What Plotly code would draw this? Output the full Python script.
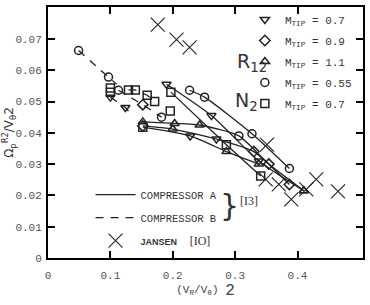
import plotly.graph_objects as go

# ---------------- data ----------------
# Compressor A (solid curves)
a_series = [
    # (x values, y values, marker symbols)
    ([0.190, 0.262, 0.338, 0.410], [0.0555, 0.0455, 0.0310, 0.0215],
     ["tdown", "tdown", "tdown", "tup"]),
    ([0.197, 0.286, 0.341], [0.0530, 0.0362, 0.0262],
     ["square", "square", "square"]),
    ([0.227, 0.251, 0.327, 0.387], [0.0536, 0.0514, 0.0397, 0.0286],
     ["circle", "circle", "circle", "circle"]),
    ([0.152, 0.203, 0.243, 0.306, 0.354, 0.410], [0.0435, 0.0430, 0.0425, 0.0390, 0.0300, 0.0215],
     ["tup", "tup", "tup", "circle", "diamond", "tup"]),
    ([0.152, 0.200, 0.270, 0.330, 0.387], [0.0422, 0.0412, 0.0380, 0.0340, 0.0235],
     ["diamond", "tup", "tdown", "diamond", "diamond"]),
    ([0.152, 0.228, 0.286, 0.338], [0.0418, 0.0390, 0.0340, 0.0300],
     ["square", "tdown", "tup", "tup"]),
]
# Compressor B (dashed curves)
b_series = [
    ([0.049, 0.097, 0.110], [0.0663, 0.0578, 0.0555], ["circle", "circle", None]),
    ([0.100, 0.124, 0.132], [0.0514, 0.0481, 0.0462], ["tdown", "tdown", None]),
    ([0.129, 0.140, 0.159, 0.171], [0.0537, 0.0537, 0.0520, 0.0500],
     ["square", "square", "square", "square"]),
    ([0.113, 0.152, 0.182], [0.0536, 0.0490, 0.0450], ["circle", "diamond", "circle"]),
]
# isolated points
single_x = [0.100, 0.100, 0.196]
single_y = [0.0543, 0.0530, 0.0470]
single_s = ["square", "square", "square"]

# Jansen [10]
jansen_x = [0.176, 0.206, 0.227, 0.351, 0.349, 0.370, 0.390, 0.414, 0.430, 0.465]
jansen_y = [0.0746, 0.0698, 0.0673, 0.0362, 0.0251, 0.0235, 0.0187, 0.0219, 0.0251, 0.0213]

# legend entries for marker symbols
sym_order = ["tdown", "diamond", "tup", "circle", "square"]
sym_labels = ["M<sub>TIP</sub> = 0.7", "M<sub>TIP</sub> = 0.9", "M<sub>TIP</sub> = 1.1",
              "M<sub>TIP</sub> = 0.55", "M<sub>TIP</sub> = 0.7"]
plotly_sym = {"tdown": "triangle-down-open", "diamond": "diamond-open",
              "tup": "triangle-up-open", "circle": "circle-open", "square": "square-open"}

x_ticks = [0, 0.1, 0.2, 0.3, 0.4]
x_ticklabels = ["0", "0.1", "0.2", "0.3", "0.4"]
y_ticks = [0, 0.01, 0.02, 0.03, 0.04, 0.05, 0.06, 0.07]
y_ticklabels = ["0", "0.01", "0.02", "0.03", "0.04", "0.05", "0.06", "0.07"]

# ---------------- figure ----------------
MONO = "Liberation Mono, DejaVu Sans Mono, monospace"
INK = "#222"
fig = go.Figure()

for i, (xs, ys, _) in enumerate(a_series):
    fig.add_trace(go.Scatter(
        x=xs, y=ys, mode="lines", line=dict(color=INK, width=1.3, shape="spline", smoothing=0.6),
        name="COMPRESSOR A", legend="legend2", legendgroup="A", showlegend=(i == 0),
        hoverinfo="skip"))
for i, (xs, ys, _) in enumerate(b_series):
    fig.add_trace(go.Scatter(
        x=xs, y=ys, mode="lines", line=dict(color=INK, width=1.3, dash="8px,7px"),
        name="COMPRESSOR B", legend="legend2", legendgroup="B", showlegend=(i == 0),
        hoverinfo="skip"))

fig.add_trace(go.Scatter(
    x=jansen_x, y=jansen_y, mode="markers",
    marker=dict(symbol="x-thin-open", size=14, color=INK, line=dict(color=INK, width=1.1)),
    name="<span style='font-size:9px;font-family:Liberation Sans Narrow, Liberation Sans'><b>JANSEN</b></span>"
         "  <span style='font-family:Liberation Serif;font-size:12px'>[IO]</span>",
    legend="legend2", legendgroup="J"))

# marker traces grouped by symbol
for sym, lab in zip(sym_order, sym_labels):
    mx, my = [], []
    for xs, ys, ss in a_series + b_series:
        for x, y, s in zip(xs, ys, ss):
            if s == sym:
                mx.append(x); my.append(y)
    for x, y, s in zip(single_x, single_y, single_s):
        if s == sym:
            mx.append(x); my.append(y)
    fig.add_trace(go.Scatter(
        x=mx, y=my, mode="markers", name=lab, legend="legend", legendgroup=sym + lab,
        marker=dict(symbol=plotly_sym[sym], size=8, color=INK,
                    line=dict(color=INK, width=1.5))))

axis_common = dict(showline=True, linecolor="black", linewidth=2, mirror="ticks",
                   ticks="inside", ticklen=7, tickwidth=1.5, tickcolor="black",
                   showgrid=False, zeroline=False,
                   tickfont=dict(family=MONO, size=11, color="#555"))

fig.update_xaxes(range=[0, 0.505], tickvals=x_ticks, ticktext=x_ticklabels,
                 ticklabelstandoff=6,
                 title=dict(text="(V<sub>R</sub>/V<sub>θ</sub>) <sub><span style='font-size:16px'>2</span></sub>",
                            font=dict(family=MONO, size=11, color="#444"), standoff=4),
                 **axis_common)
fig.update_yaxes(range=[0, 0.0802], tickvals=y_ticks, ticktext=y_ticklabels,
                 ticklabelstandoff=2,
                 title=dict(text="Ω<sub>p</sub><sup>R2</sup>/V<sub>θ</sub>2",
                            font=dict(family="DejaVu Sans", size=12, color="#333"), standoff=2),
                 **axis_common)

fig.update_layout(
    width=370, height=305, autosize=False,
    margin=dict(l=46, r=5, t=5, b=47),
    paper_bgcolor="white", plot_bgcolor="white",
    font=dict(family=MONO, size=11, color="#333"),
    legend=dict(x=0.625, y=1.008, xanchor="left", yanchor="top", bgcolor="rgba(0,0,0,0)",
                font=dict(family=MONO, size=11, color="#333"), tracegroupgap=2,
                itemwidth=30),
    legend2=dict(x=0.135, y=0.31, xanchor="left", yanchor="top", bgcolor="rgba(0,0,0,0)",
                 font=dict(family=MONO, size=10.5, color="#333"), tracegroupgap=4,
                 itemwidth=40),
    annotations=[
        dict(text="R<sub>12</sub>", x=0.648, y=0.835, xref="paper", yref="paper",
             showarrow=False, font=dict(family="DejaVu Sans", size=19, color="#333")),
        dict(text="N<sub>2</sub>", x=0.672, y=0.625, xref="paper", yref="paper",
             showarrow=False, font=dict(family="DejaVu Sans", size=19, color="#333")),
        dict(text="}", x=0.575, y=0.13, xref="paper", yref="paper",
             showarrow=False, font=dict(family="DejaVu Sans", size=30, color="#333")),
        dict(text="[I3]", x=0.638, y=0.19, xref="paper", yref="paper",
             showarrow=False, font=dict(family="Liberation Serif", size=12, color="#333")),
    ],
)

fig.write_html("out.html")
